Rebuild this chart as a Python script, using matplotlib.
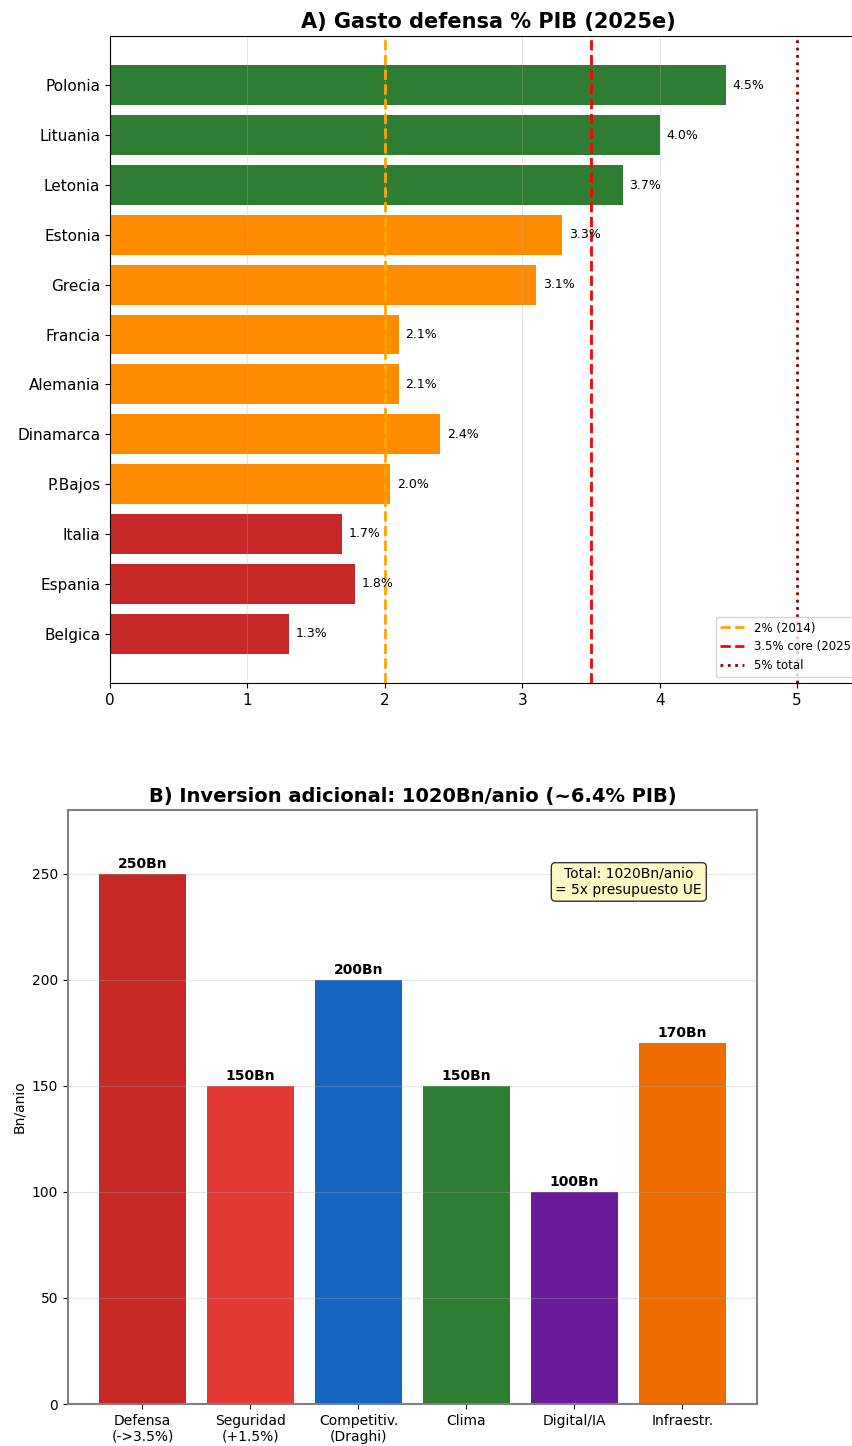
"""Defence spending and extra investment needs — two-panel summary figure."""

import matplotlib
matplotlib.use("Agg")
import matplotlib.pyplot as plt

plt.rcParams.update({"font.family": "DejaVu Sans", "font.size": 10})

# Panel A: defence spending as % of GDP, 2025 estimate
paises = ["Polonia", "Lituania", "Letonia", "Estonia", "Grecia", "Francia",
          "Alemania", "Dinamarca", "P.Bajos", "Italia", "Espania", "Belgica"]
gasto_pib = [4.48, 4.0, 3.73, 3.29, 3.1, 2.1, 2.1, 2.4, 2.04, 1.69, 1.78, 1.3]
colores_pais = ["#2e7d32"] * 3 + ["#ff8c00"] * 6 + ["#c62828"] * 3

# reference thresholds: (value, colour, style, label)
umbrales = [
    (2.0, "#ffa500", "--", "2% (2014)"),
    (3.5, "#ff0000", "--", "3.5% core (2025)"),
    (5.0, "#8b0000", ":", "5% total"),
]

# Panel B: extra investment per year (Bn)
partidas = ["Defensa\n(->3.5%)", "Seguridad\n(+1.5%)", "Competitiv.\n(Draghi)",
            "Clima", "Digital/IA", "Infraestr."]
inversion = [250, 150, 200, 150, 100, 170]
colores_partida = ["#c62828", "#e53935", "#1565c0", "#2e7d32", "#6a1b9a", "#ef6c00"]

fig = plt.figure(figsize=(8.53, 14.46), dpi=100)

# ---------------------------------------------------------------------------
# Panel A
# ---------------------------------------------------------------------------
ax1 = fig.add_axes([0.129, 0.5277, 0.886, 0.4474])
ypos = list(range(len(paises)))
ax1.barh(ypos, gasto_pib, color=colores_pais, height=0.8)
for y, v in zip(ypos, gasto_pib):
    ax1.text(v + 0.05, y, f"{v:.1f}%", va="center", fontsize=9)
for val, col, ls, lab in umbrales:
    ax1.axvline(val, color=col, ls=ls, lw=2, label=lab)
ax1.set_yticks(ypos)
ax1.set_yticklabels(paises, fontsize=11)
ax1.invert_yaxis()
ax1.set_xlim(0, 5.5)
ax1.tick_params(axis="x", labelsize=11)
ax1.grid(axis="x", alpha=0.3)
ax1.legend(loc="lower right", fontsize=8.5)
ax1.set_title("A) Gasto defensa % PIB (2025e)", fontsize=15, fontweight="bold")

# ---------------------------------------------------------------------------
# Panel B
# ---------------------------------------------------------------------------
ax2 = fig.add_axes([0.0797, 0.029, 0.8077, 0.4108])
xpos = list(range(len(partidas)))
ax2.bar(xpos, inversion, color=colores_partida, width=0.8)
for x, v in zip(xpos, inversion):
    ax2.text(x, v + 1.5, f"{v}Bn", ha="center", va="bottom", fontsize=10,
             fontweight="bold")
ax2.set_xticks(xpos)
ax2.set_xticklabels(partidas, fontsize=10)
ax2.set_ylim(0, 280)
ax2.set_ylabel("Bn/anio", fontsize=10)
ax2.grid(axis="y", alpha=0.3)
for sp in ax2.spines.values():
    sp.set_color("#808080")
    sp.set_linewidth(1.5)
ax2.text(0.814, 0.879, "Total: 1020Bn/anio\n= 5x presupuesto UE",
         transform=ax2.transAxes, ha="center", va="center", fontsize=10,
         bbox=dict(boxstyle="round,pad=0.3", facecolor="#fff9c4",
                   edgecolor="#333333"))
ax2.set_title("B) Inversion adicional: 1020Bn/anio (~6.4% PIB)", fontsize=14,
              fontweight="bold")

fig.savefig("out.png", dpi=100)
